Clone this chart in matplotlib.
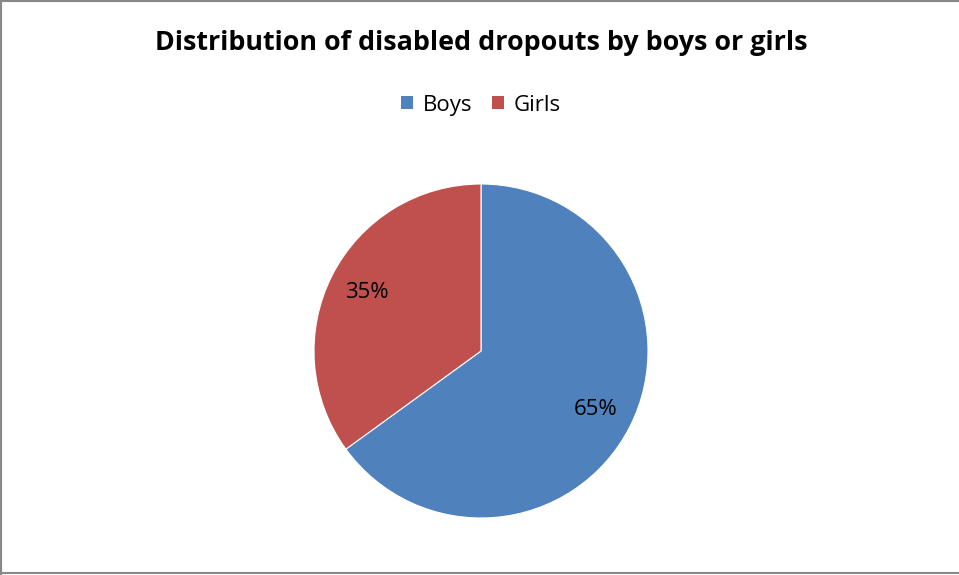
import matplotlib.pyplot as plt
from matplotlib.patches import Patch
from matplotlib.lines import Line2D

labels = ['Boys', 'Girls']
shares = [65, 35]
colors = ['#4F81BD', '#C0504D']

W, H = 959, 575
fig = plt.figure(figsize=(W / 100, H / 100), dpi=100)

# pie centre (481, 351) px, radius 167 px
cx, cy, r = 481, 351, 167
ax = fig.add_axes([(cx - r) / W, (H - cy - r) / H, 2 * r / W, 2 * r / H])
wedges, texts, autotexts = ax.pie(shares, colors=colors, startangle=90, counterclock=False,
                                  autopct='%d%%', pctdistance=0.77,
                                  wedgeprops=dict(edgecolor='white', linewidth=0.8),
                                  textprops=dict(fontsize=16, family='Open Sans', color='black'))
ax.set_xlim(-1, 1)
ax.set_ylim(-1, 1)
ax.set_aspect('equal')

fig.text(cx / W, 1 - 43 / H, 'Distribution of disabled dropouts by boys or girls',
         ha='center', va='center', fontsize=19.4, fontweight='bold', family='Open Sans')

handles = [Patch(facecolor=c, edgecolor='none') for c in colors]
fig.legend(handles, labels, loc='center', bbox_to_anchor=(cx / W, 1 - 105 / H), ncol=2,
           frameon=False, prop=dict(family='Open Sans', size=16),
           handlelength=0.55, handleheight=0.55, handletextpad=0.45, columnspacing=0.85)

# chart border
border = dict(color='#888888', linewidth=1.5, transform=fig.transFigure)
fig.add_artist(Line2D([0.001, 0.001], [0, 1], **border))
fig.add_artist(Line2D([0, 1], [0.999, 0.999], **border))
fig.add_artist(Line2D([0, 1], [1 - 573 / H, 1 - 573 / H], **border))

fig.savefig('out.png', dpi=100)
